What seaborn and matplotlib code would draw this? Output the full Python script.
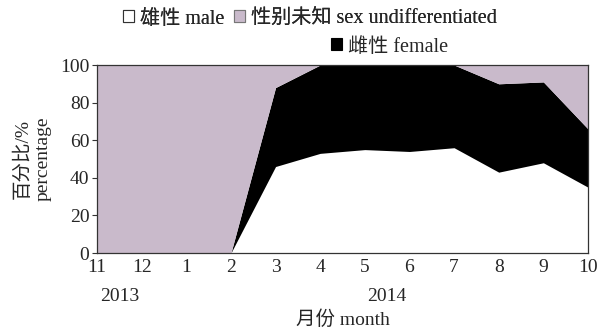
import numpy as np
import matplotlib
matplotlib.use("Agg")
import matplotlib.pyplot as plt
from matplotlib.patches import Patch
from matplotlib.transforms import blended_transform_factory
import seaborn as sns

# Monthly sex composition (%) from Nov 2013 to Oct 2014
months = ["11", "12", "1", "2", "3", "4", "5", "6", "7", "8", "9", "10"]
years = ["2013", "2014"]
male = [0, 0, 0, 0, 46, 53, 55, 54, 56, 43, 48, 35]
female = [0, 0, 0, 0, 42, 47, 45, 46, 44, 47, 43, 31]
undifferentiated = [100, 100, 100, 100, 12, 0, 0, 0, 0, 10, 9, 34]

series_labels = ["雄性 male", "性别未知 sex undifferentiated", "雌性 female"]
series_colors = ["#ffffff", "#000000", "#c9bacb"]  # male, female, undifferentiated

sns.set_theme(style="ticks")
plt.rcParams["font.family"] = ["Liberation Serif", "Noto Sans CJK SC", "DejaVu Sans"]
plt.rcParams["font.size"] = 14

fig = plt.figure(figsize=(6.05, 3.31), dpi=100)
ax = fig.add_axes([97 / 605, 1 - 253 / 331, (588 - 97) / 605, (253 - 65) / 331])

x = np.arange(len(months))
ax.stackplot(x, male, female, undifferentiated,
             colors=series_colors, linewidth=0)

ax.set_xlim(0, len(months) - 1)
ax.set_ylim(0, 100)
ax.set_yticks([0, 20, 40, 60, 80, 100])
ax.set_xticks(x)
ax.set_xticklabels(months)
ax.tick_params(axis="x", length=0, pad=4, labelsize=14)
ax.tick_params(axis="y", length=3.5, width=0.8, pad=2, labelsize=14,
               direction="out", color="#333333")
for side in ["left", "right", "top", "bottom"]:
    ax.spines[side].set_visible(True)
    ax.spines[side].set_color("#333333")
    ax.spines[side].set_linewidth(0.9)

# Year labels beneath the month ticks
trans = blended_transform_factory(ax.transData, ax.transAxes)
ax.text(0.5, -0.23, years[0], transform=trans, ha="center", va="center", fontsize=14)
ax.text(6.5, -0.23, years[1], transform=trans, ha="center", va="center", fontsize=14)

ax.set_xlabel("月份 month", fontsize=14, labelpad=25)
ax.set_ylabel("百分比/%\npercentage", fontsize=14, labelpad=6, linespacing=1.2)

# Legend: two entries on the first row, female on the second
h_male = Patch(facecolor="#ffffff", edgecolor="#333333", linewidth=0.8, label=series_labels[0])
h_und = Patch(facecolor="#c9bacb", edgecolor="#777777", linewidth=0.8, label=series_labels[1])
h_fem = Patch(facecolor="#000000", edgecolor="#000000", linewidth=0.8, label=series_labels[2])

leg1 = fig.legend(handles=[h_male, h_und], loc="center", bbox_to_anchor=(310 / 605, 1 - 19 / 331),
                  ncol=2, frameon=False, fontsize=14.5, handlelength=0.55, handleheight=0.55,
                  handletextpad=0.3, columnspacing=0.5, borderpad=0)
fig.add_artist(leg1)
fig.legend(handles=[h_fem], loc="center", bbox_to_anchor=(390 / 605, 1 - 47 / 331),
           frameon=False, fontsize=14.5, handlelength=0.55, handleheight=0.55,
           handletextpad=0.3, borderpad=0)

fig.savefig("out.png", dpi=100)
